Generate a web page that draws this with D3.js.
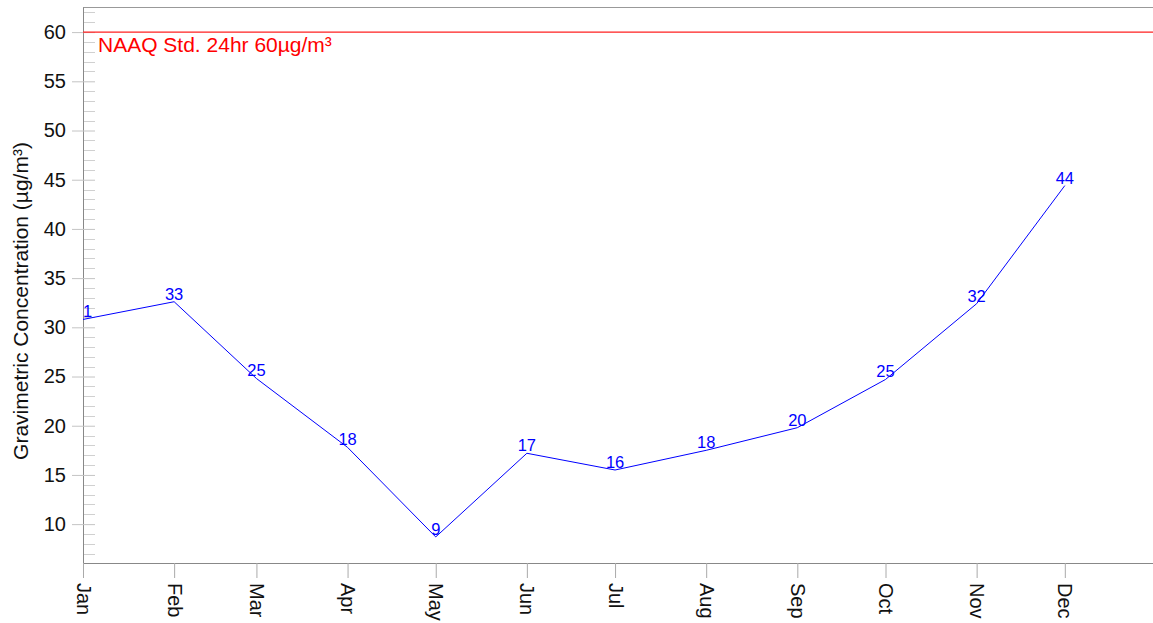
<!DOCTYPE html>
<html>
<head>
<meta charset="utf-8">
<script src="https://cdn.jsdelivr.net/npm/d3@7"></script>
<style>
	body { margin: 0; background: #fff; }
	svg { display: block; font-family: "Liberation Sans", Arial, sans-serif; }
</style>
</head>
<body>
<div id="chart"></div>
<script>
//data
let months = ["Jan", "Feb", "Mar", "Apr", "May", "Jun", "Jul", "Aug", "Sep", "Oct", "Nov", "Dec"];
let values = [30.8, 32.6, 24.8, 17.8, 8.7, 17.2, 15.5, 17.5, 19.8, 24.7, 32.4, 44.4];
let stdValue = 60;
let stdLabel = "NAAQ Std. 24hr 60µg/m³";
let yTicks = [10, 15, 20, 25, 30, 35, 40, 45, 50, 55, 60];

function drawChart(){

	let width = 1153;
	let height = 623;
	let margin = {top: 7, right: 0, bottom: 60, left: 83};

	let svg = d3.select("#chart")
		.append("svg")
		.attr("width", width)
		.attr("height", height);

	let data = months.map((m, i) => ({date: new Date(2023, i, 1), value: values[i]}));

	const xScale = d3.scaleTime()
		.domain([new Date(2023, 0, 1), new Date(2023, 11, 31)])
		.range([margin.left, width - margin.right]);

	const yScale = d3.scaleLinear()
		.domain([6.05, 62.55])
		.range([height - margin.bottom, margin.top]);

	//clip
	svg.append("clipPath")
		.attr("id", "plot-clip")
		.append("rect")
		.attr("x", margin.left)
		.attr("y", margin.top)
		.attr("width", width - margin.left - margin.right)
		.attr("height", height - margin.top - margin.bottom);

	//top border
	svg.append("line")
		.attr("x1", margin.left).attr("x2", width)
		.attr("y1", margin.top + 0.5).attr("y2", margin.top + 0.5)
		.attr("stroke", "#999");

	//minor y ticks
	let minor = d3.range(7, 63, 1).filter(v => v % 5 !== 0);
	svg.append("g")
		.selectAll("line")
		.data(minor)
		.join("line")
		.attr("x1", margin.left).attr("x2", margin.left + 12)
		.attr("y1", d => Math.round(yScale(d)) + 0.5)
		.attr("y2", d => Math.round(yScale(d)) + 0.5)
		.attr("stroke", "#d0d0d0");

	//y axis
	const yAxis = d3.axisLeft(yScale)
		.tickValues(yTicks)
		.tickSize(11)
		.tickPadding(6)
		.tickSizeOuter(0);

	let gy = svg.append("g")
		.attr("transform", `translate(${margin.left},0)`)
		.call(yAxis);
	gy.select(".domain").attr("stroke", "#888");
	gy.selectAll(".tick line")
		.attr("x1", 12)
		.attr("stroke", "#c4c4c4");
	gy.selectAll(".tick text")
		.attr("font-size", 20)
		.attr("font-family", "Liberation Sans, Arial, sans-serif")
		.attr("fill", "#111");

	//x axis
	const xAxis = d3.axisBottom(xScale)
		.tickValues(data.map(d => d.date))
		.tickFormat(d3.timeFormat("%b"))
		.tickSize(15)
		.tickSizeOuter(0);

	let gx = svg.append("g")
		.attr("transform", `translate(0,${height - margin.bottom})`)
		.call(xAxis);
	gx.select(".domain").attr("stroke", "#888");
	gx.selectAll(".tick line").attr("stroke", "#aaa");
	gx.selectAll(".tick text")
		.attr("font-size", 20)
		.attr("font-family", "Liberation Sans, Arial, sans-serif")
		.attr("fill", "#111")
		.attr("transform", "rotate(90)")
		.attr("x", 20)
		.attr("y", 0)
		.attr("dy", "0.35em")
		.attr("text-anchor", "start");

	//y title
	svg.append("text")
		.attr("transform", `translate(28,301) rotate(-90)`)
		.attr("text-anchor", "middle")
		.attr("font-size", 21)
		.attr("fill", "#111")
		.text("Gravimetric Concentration (µg/m³)");

	let plot = svg.append("g").attr("clip-path", "url(#plot-clip)");

	//standard line
	plot.append("line")
		.attr("x1", margin.left).attr("x2", width)
		.attr("y1", yScale(stdValue)).attr("y2", yScale(stdValue))
		.attr("stroke", "#ff2020")
		.attr("stroke-width", 1.2);

	plot.append("text")
		.attr("x", margin.left + 15)
		.attr("y", yScale(stdValue) + 20)
		.attr("font-size", 21)
		.attr("fill", "#ff0000")
		.text(stdLabel);

	//series line
	const line = d3.line()
		.x(d => xScale(d.date))
		.y(d => yScale(d.value));

	plot.append("path")
		.datum(data)
		.attr("fill", "none")
		.attr("stroke", "#0000ff")
		.attr("stroke-width", 1)
		.attr("d", line);

	//value labels
	plot.selectAll(".vlabel")
		.data(data)
		.join("text")
		.attr("class", "vlabel")
		.attr("x", d => xScale(d.date))
		.attr("y", d => yScale(d.value) - 2)
		.attr("text-anchor", "middle")
		.attr("font-size", 16.5)
		.attr("fill", "#0000ff")
		.text(d => Math.round(d.value));

}

drawChart();
</script>
</body>
</html>
